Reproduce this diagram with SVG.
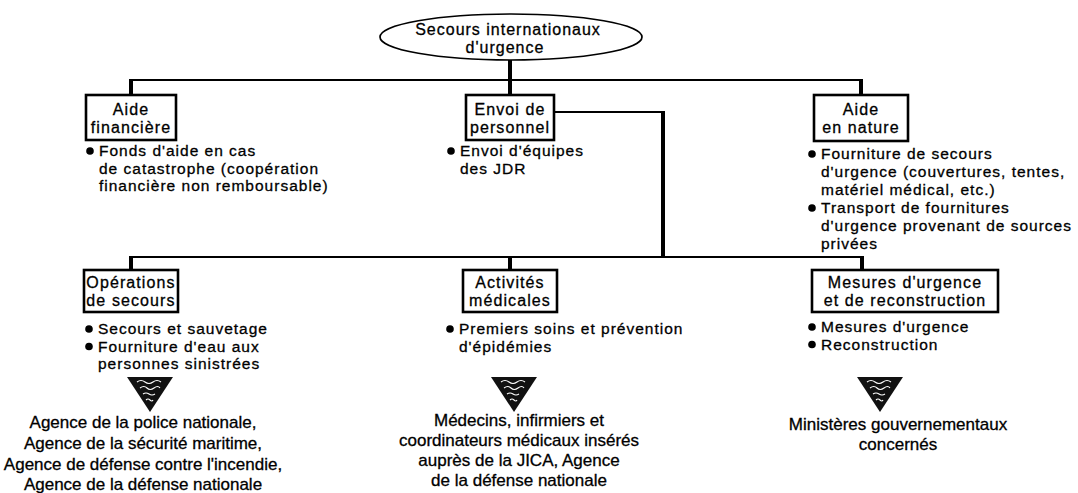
<svg xmlns="http://www.w3.org/2000/svg" width="1078" height="493" viewBox="0 0 1078 493">
  <style>
    .t{font-family:"Liberation Sans",Arial,sans-serif;fill:#000;stroke:#000;stroke-width:0.3}
    .c{text-anchor:middle}
    .hd{font-size:16px;letter-spacing:1px}
    .lb{font-size:16px;letter-spacing:1.1px}
    .bl{font-size:15.5px;letter-spacing:1px}
    .ag{font-size:17px}
    .box{fill:#fff;stroke:#000;stroke-width:2.6}
    .thin{stroke:#000;stroke-width:1.8;fill:none}
    .thick{stroke:#000;stroke-width:4;fill:none}
  </style>
  <defs>
    <circle id="dot" r="3.8" fill="#000"/>
    <g id="funnel">
      <polygon points="-23,0 23,0 0,35" fill="#111"/>
      <path d="M-13,5 q4,-3 8,0 t8,0 t8,0 M-10,11 q4,-3 7,0 t7,0 t6,0 M-7,17 q3,-2 6,0 t6,0 M-4,23 q2,-2 4,0 t3,0" stroke="#fff" stroke-width="1.1" fill="none"/>
    </g>
  </defs>
  <rect width="1078" height="493" fill="#fff"/>

  <!-- connectors -->
  <g id="connectors">
    <line class="thick" x1="510" y1="60" x2="510" y2="95"/>
    <line class="thin" x1="131" y1="80" x2="861" y2="80"/>
    <line class="thick" x1="131" y1="79" x2="131" y2="95"/>
    <line class="thick" x1="861" y1="79" x2="861" y2="95"/>
    <line class="thin" x1="554" y1="112" x2="663" y2="112"/>
    <line class="thick" x1="663" y1="111" x2="663" y2="258"/>
    <line class="thin" x1="131" y1="257" x2="863" y2="257"/>
    <line class="thick" x1="131" y1="256" x2="131" y2="270"/>
    <line class="thick" x1="510" y1="256" x2="510" y2="270"/>
    <line class="thick" x1="862" y1="256" x2="862" y2="270"/>
  </g>

  <!-- root -->
  <g id="root">
    <ellipse cx="511" cy="37" rx="131" ry="23" fill="#fff" stroke="#000" stroke-width="1.7"/>
    <text class="t c hd" x="508" y="35">Secours internationaux</text>
    <text class="t c hd" x="505" y="53">d'urgence</text>
  </g>

  <!-- financial aid -->
  <g id="aide-financiere">
    <rect class="box" x="86" y="95" width="90" height="45"/>
    <text class="t c lb" x="131" y="115">Aide</text>
    <text class="t c lb" x="131" y="133">financière</text>
    <use href="#dot" x="90" y="151"/>
    <text class="t bl" x="99" y="156">Fonds d'aide en cas</text>
    <text class="t bl" x="99" y="173.5">de catastrophe (coopération</text>
    <text class="t bl" x="99" y="191">financière non remboursable)</text>
  </g>

  <!-- personnel -->
  <g id="envoi-personnel">
    <rect class="box" x="466" y="95" width="88" height="45"/>
    <text class="t c lb" x="510" y="115">Envoi de</text>
    <text class="t c lb" x="510" y="133">personnel</text>
    <use href="#dot" x="451" y="151"/>
    <text class="t bl" x="460" y="156">Envoi d'équipes</text>
    <text class="t bl" x="460" y="173.5">des JDR</text>
  </g>

  <!-- aid in kind -->
  <g id="aide-nature">
    <rect class="box" x="814" y="95" width="94" height="46"/>
    <text class="t c lb" x="861" y="115">Aide</text>
    <text class="t c lb" x="861" y="133">en nature</text>
    <use href="#dot" x="812" y="154"/>
    <text class="t bl" x="821" y="159">Fourniture de secours</text>
    <text class="t bl" x="821" y="177">d'urgence (couvertures, tentes,</text>
    <text class="t bl" x="821" y="195">matériel médical, etc.)</text>
    <use href="#dot" x="812" y="208"/>
    <text class="t bl" x="821" y="213">Transport de fournitures</text>
    <text class="t bl" x="821" y="231">d'urgence provenant de sources</text>
    <text class="t bl" x="821" y="249">privées</text>
  </g>

  <!-- rescue operations -->
  <g id="operations-secours">
    <rect class="box" x="84" y="270" width="94" height="42"/>
    <text class="t c lb" x="131" y="288">Opérations</text>
    <text class="t c lb" x="131" y="306">de secours</text>
    <use href="#dot" x="89" y="329"/>
    <text class="t bl" x="98" y="334">Secours et sauvetage</text>
    <use href="#dot" x="89" y="346.5"/>
    <text class="t bl" x="98" y="351.5">Fourniture d'eau aux</text>
    <text class="t bl" x="98" y="369">personnes sinistrées</text>
    <use href="#funnel" x="150" y="377"/>
    <text class="t c ag" x="143" y="428">Agence de la police nationale,</text>
    <text class="t c ag" x="143" y="449">Agence de la sécurité maritime,</text>
    <text class="t c ag" x="143" y="470">Agence de défense contre l'incendie,</text>
    <text class="t c ag" x="143" y="490">Agence de la défense nationale</text>
  </g>

  <!-- medical activities -->
  <g id="activites-medicales">
    <rect class="box" x="463" y="270" width="94" height="42"/>
    <text class="t c lb" x="510" y="288">Activités</text>
    <text class="t c lb" x="510" y="306">médicales</text>
    <use href="#dot" x="450" y="329"/>
    <text class="t bl" x="459" y="334">Premiers soins et prévention</text>
    <text class="t bl" x="459" y="351.5">d'épidémies</text>
    <use href="#funnel" x="514" y="377"/>
    <text class="t c ag" x="519" y="426">Médecins, infirmiers et</text>
    <text class="t c ag" x="519" y="446">coordinateurs médicaux insérés</text>
    <text class="t c ag" x="519" y="466">auprès de la JICA, Agence</text>
    <text class="t c ag" x="519" y="486">de la défense nationale</text>
  </g>

  <!-- emergency and reconstruction -->
  <g id="mesures-reconstruction">
    <rect class="box" x="812" y="270" width="186" height="42"/>
    <text class="t c lb" x="905" y="288">Mesures d'urgence</text>
    <text class="t c lb" x="905" y="306">et de reconstruction</text>
    <use href="#dot" x="812" y="327"/>
    <text class="t bl" x="821" y="332">Mesures d'urgence</text>
    <use href="#dot" x="812" y="344.5"/>
    <text class="t bl" x="821" y="349.5">Reconstruction</text>
    <use href="#funnel" x="880" y="377"/>
    <text class="t c ag" x="898" y="430">Ministères gouvernementaux</text>
    <text class="t c ag" x="898" y="450">concernés</text>
  </g>
</svg>
